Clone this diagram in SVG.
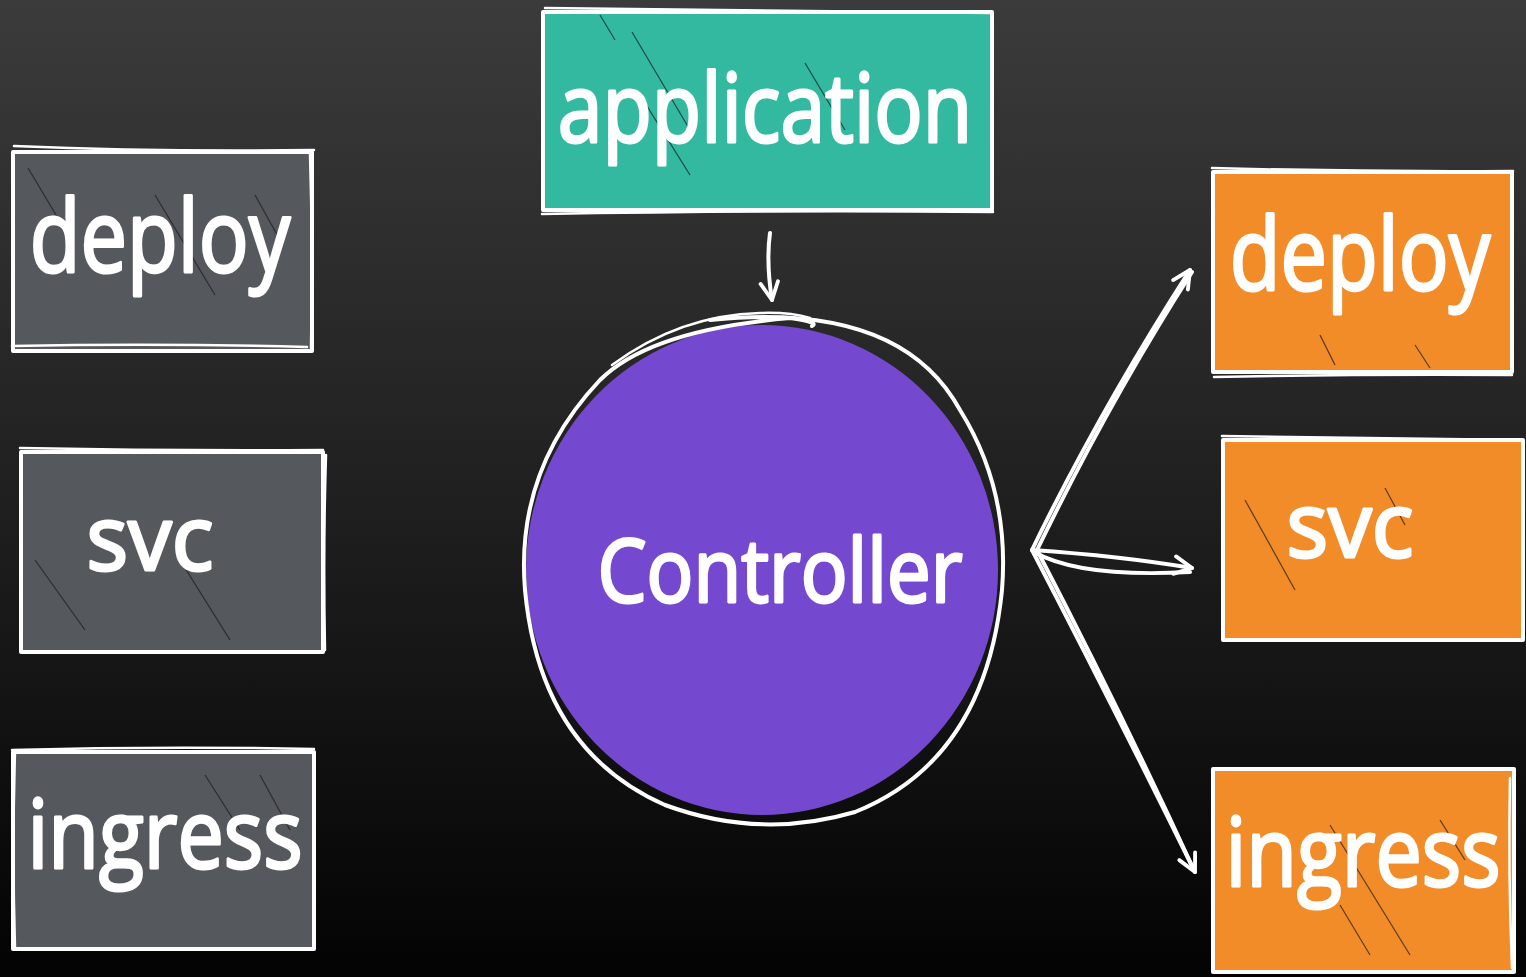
<svg xmlns="http://www.w3.org/2000/svg" width="1526" height="977" viewBox="0 0 1526 977">
<defs>
<linearGradient id="bg" x1="0" y1="0" x2="0" y2="1">
<stop offset="0" stop-color="#3b3b3b"/>
<stop offset="0.5" stop-color="#202020"/>
<stop offset="1" stop-color="#030303"/>
</linearGradient>
<marker id="ah" viewBox="0 0 20 20" refX="18" refY="10" markerWidth="22" markerHeight="22" markerUnits="userSpaceOnUse" orient="auto">
<path d="M2 2 L18 10 L2 18" fill="none" stroke="#fff" stroke-width="3.5" stroke-linecap="round" stroke-linejoin="round"/>
</marker>
</defs>
<style>
.box{stroke:#fff;stroke-width:4;stroke-linejoin:round}
.sk{fill:none;stroke:#fff;stroke-width:2.5;stroke-linecap:round}
.ring{fill:none;stroke:#fff;stroke-width:4;stroke-linecap:round}
.gray{fill:#55585d}
.teal{fill:#32b9a0}
.orange{fill:#f28c28}
.lbl{font-family:"Open Sans","DejaVu Sans",sans-serif;fill:#fff;stroke:#fff;stroke-width:3;stroke-linejoin:round;text-anchor:middle}
.hatch{stroke:#1a1a1a;stroke-width:1.2;opacity:0.7}
.con{fill:none;stroke:#fff;stroke-width:4;stroke-linecap:round;stroke-linejoin:round}
</style>
<rect width="1526" height="977" fill="url(#bg)"/>

<g id="left-deploy">
<rect class="box gray" x="13" y="152" width="299" height="199"/>
<path class="sk" d="M14 146 Q160 152 314 150 M310 154 Q313 250 311 348 M12 346 Q160 343 307 347"/>
<line class="hatch" x1="28" y1="168" x2="62" y2="225"/>
<line class="hatch" x1="155" y1="195" x2="215" y2="295"/>
<line class="hatch" x1="255" y1="195" x2="280" y2="240"/>
<text class="lbl" transform="translate(160 272) scale(0.83 1)" font-size="100">deploy</text>
</g>

<g id="left-svc">
<rect class="box gray" x="21" y="452" width="302" height="200"/>
<path class="sk" d="M20 448 Q170 451 323 450 M326 455 Q323 550 325 650"/>
<line class="hatch" x1="35" y1="560" x2="85" y2="630"/>
<line class="hatch" x1="180" y1="560" x2="230" y2="640"/>
<text class="lbl" transform="translate(150 570) scale(0.97 1)" font-size="90">svc</text>
</g>

<g id="left-ingress">
<rect class="box gray" x="13" y="752" width="301" height="197"/>
<path class="sk" d="M12 750 Q160 746 314 749 M15 752 Q12 850 15 948"/>
<line class="hatch" x1="205" y1="775" x2="240" y2="830"/>
<line class="hatch" x1="260" y1="775" x2="290" y2="830"/>
<text class="lbl" transform="translate(165 868) scale(0.86 1)" font-size="96">ingress</text>
</g>

<g id="application">
<rect class="box teal" x="543" y="12" width="449" height="198"/>
<path class="sk" d="M545 8 Q770 10 992 13 M542 214 Q760 210 993 212"/>
<line class="hatch" x1="600" y1="15" x2="615" y2="40"/>
<line class="hatch" x1="632" y1="32" x2="690" y2="130"/>
<line class="hatch" x1="805" y1="63" x2="845" y2="130"/>
<line class="hatch" x1="640" y1="95" x2="690" y2="175"/>
<text class="lbl" transform="translate(765 142) scale(0.84 1)" font-size="96">application</text>
</g>

<g id="controller">
<ellipse cx="762" cy="570" rx="236" ry="245" fill="#7549cf"/>
<path class="ring" d="M710 320 Q900 300 960 410 Q1010 490 1002 590 Q985 760 855 812 Q760 840 665 805 Q540 750 525 590 Q515 470 600 380 Q650 330 790 318 Q820 322 812 326"/>
<path class="sk" d="M612 365 Q680 315 760 313 Q790 312 810 318"/>
<text class="lbl" transform="translate(780 602) scale(0.885 1)" font-size="88">Controller</text>
</g>

<g id="right-deploy">
<rect class="box orange" x="1213" y="172" width="299" height="200"/>
<path class="sk" d="M1212 168 Q1360 172 1513 171 M1214 377 Q1360 374 1512 375"/>
<line class="hatch" x1="1320" y1="335" x2="1335" y2="365"/>
<line class="hatch" x1="1415" y1="345" x2="1430" y2="368"/>
<text class="lbl" transform="translate(1360 290) scale(0.83 1)" font-size="100">deploy</text>
</g>

<g id="right-svc">
<rect class="box orange" x="1223" y="440" width="300" height="200"/>
<path class="sk" d="M1222 436 Q1370 438 1523 440"/>
<line class="hatch" x1="1245" y1="500" x2="1295" y2="590"/>
<line class="hatch" x1="1385" y1="488" x2="1405" y2="525"/>
<text class="lbl" transform="translate(1350 557) scale(0.97 1)" font-size="90">svc</text>
</g>

<g id="right-ingress">
<rect class="box orange" x="1213" y="769" width="301" height="203"/>
<path class="sk" d="M1510 778 Q1508 870 1512 968"/>
<line class="hatch" x1="1330" y1="825" x2="1410" y2="955"/>
<line class="hatch" x1="1440" y1="820" x2="1465" y2="860"/>
<line class="hatch" x1="1340" y1="905" x2="1370" y2="955"/>
<text class="lbl" transform="translate(1363 886) scale(0.86 1)" font-size="96">ingress</text>
</g>

<g id="connectors">
<path class="con" d="M770 233 Q766 262 772 300" marker-end="url(#ah)"/>
<path class="con" d="M1032 550 Q1100 410 1190 270" marker-end="url(#ah)"/>
<path class="con" d="M1038 548 Q1110 400 1192 272"/>
<path class="con" d="M1032 550 Q1120 556 1192 568" marker-end="url(#ah)"/>
<path class="con" d="M1034 552 Q1080 578 1190 572"/>
<path class="con" d="M1032 550 Q1110 700 1195 872" marker-end="url(#ah)"/>
<path class="con" d="M1038 552 Q1120 710 1192 866"/>
</g>
</svg>
